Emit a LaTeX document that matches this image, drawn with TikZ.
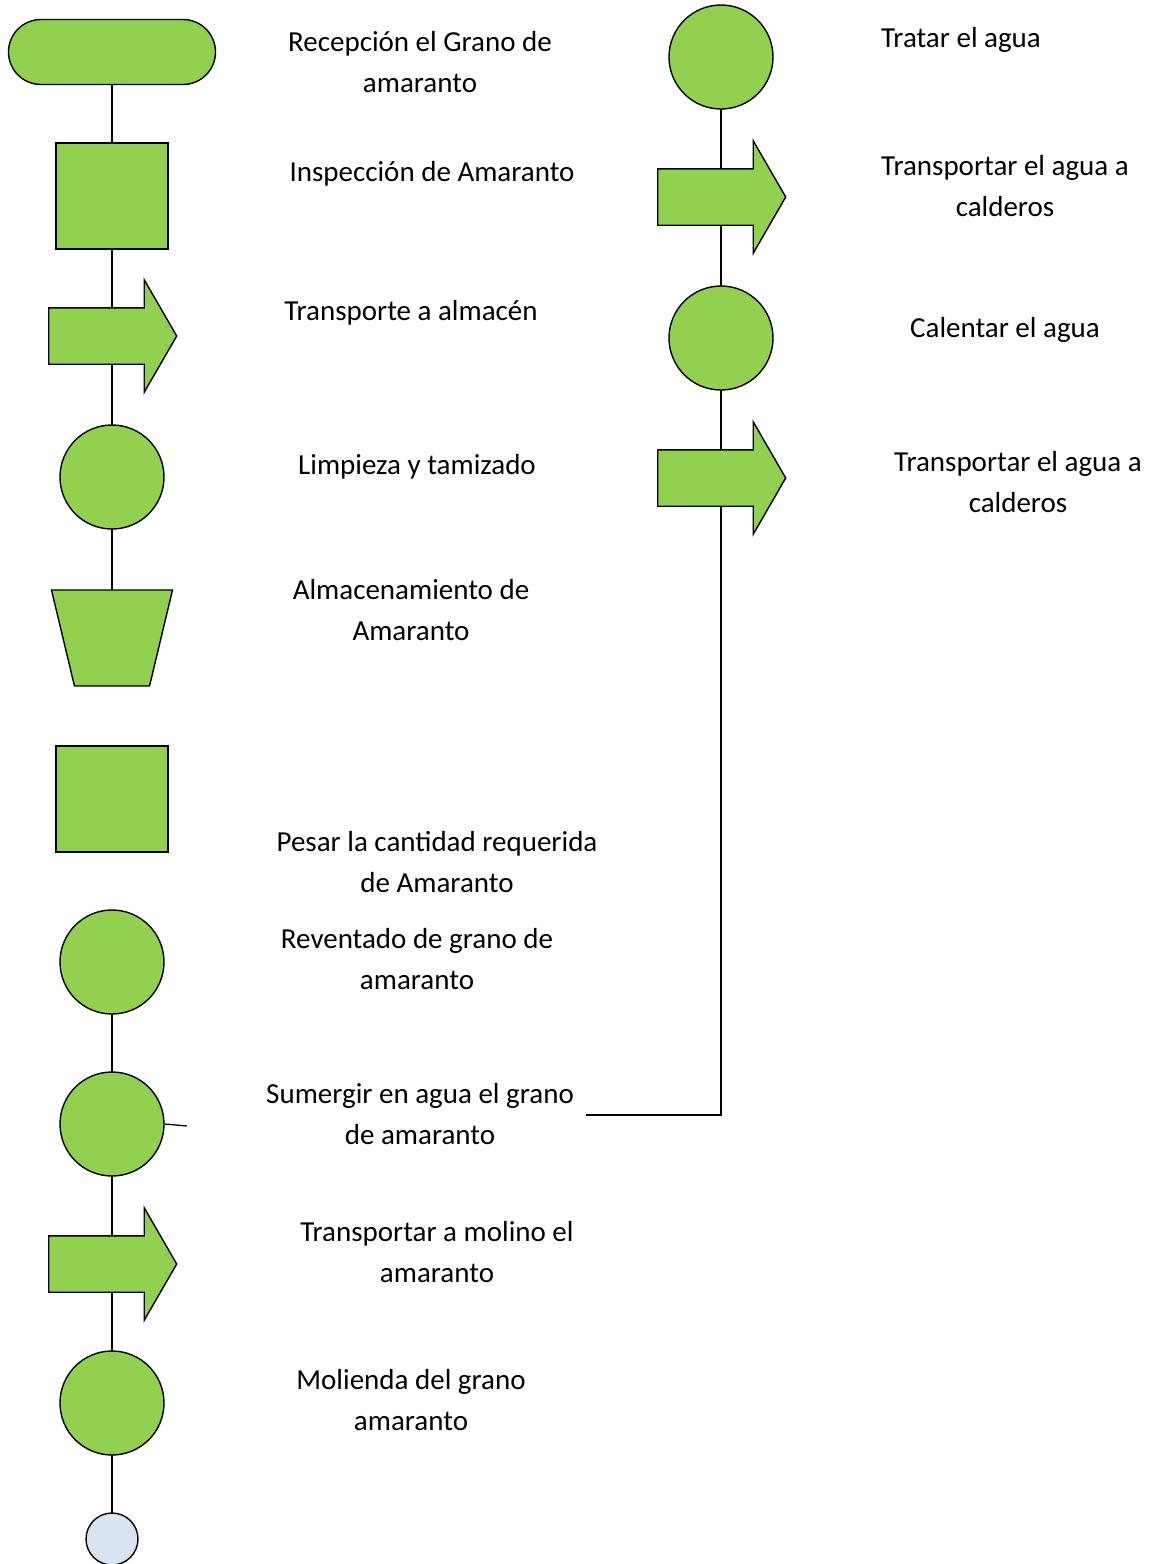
\documentclass[tikz,border=0pt]{standalone}
\usepackage{fontspec}
\setmainfont{Carlito}
\usetikzlibrary{shapes.geometric,shapes.misc,shapes.arrows,backgrounds}
\definecolor{grano}{HTML}{92D050}
\definecolor{fin}{HTML}{DAE3F0}
\tikzstyle{shp}=[draw, fill=grano, line width=1.4pt, inner sep=0pt]
\tikzstyle{term}=[shp, rounded rectangle, minimum width=207pt, minimum height=65pt]
\tikzstyle{oper}=[shp, circle, minimum size=104pt]
\tikzstyle{insp}=[shp, rectangle, minimum width=112pt, minimum height=106pt]
\tikzstyle{transp}=[shp, single arrow, inner xsep=0pt, inner ysep=27.5pt, minimum height=128pt, minimum width=111pt, single arrow head extend=28pt, single arrow tip angle=120, anchor=tail]
\tikzstyle{almac}=[shp, inner sep=2pt, trapezium, trapezium angle=73, trapezium stretches=true, shape border rotate=180, minimum width=121pt, minimum height=96pt]
\tikzstyle{txt}=[align=center, font=\fontsize{29}{41}\selectfont]
\tikzstyle{line}=[line width=1.3pt]

\begin{document}
\begin{tikzpicture}[x=1pt,y=-1pt]
\useasboundingbox (0,0) rectangle (1159,1564);
% left column
\node (rec) [term] at (112,52) {};
\node (ins) [insp] at (112,196) {};
\node (tra) [transp] at (48,336) {};
\node (lim) [oper] at (112,477) {};
\node (alm) [almac] at (112,638) {};
\node (pes) [insp] at (112,799) {};
\node (rev) [oper] at (112,962) {};
\node (sum) [oper] at (112,1124) {};
\node (mol) [transp] at (48,1264) {};
\node (mlg) [oper] at (112,1403) {};
\node (fin) [draw, fill=fin, line width=1.4pt, circle, minimum size=52pt, inner sep=0pt] at (112,1539) {};
\coordinate (stub) at (187,1126);
% right column
\node (agu) [oper] at (721,57) {};
\node (cal1) [transp] at (657,197) {};
\node (cal) [oper] at (721,338) {};
\node (cal2) [transp] at (657,478) {};
% labels
\node (l-rec) [txt] at (420,62) {Recepción el Grano de\\amaranto};
\node (l-ins) [txt] at (432,174) {Inspección de Amaranto};
\node (l-tra) [txt] at (411,313) {Transporte a almacén};
\node (l-lim) [txt] at (417,467) {Limpieza y tamizado};
\node (l-alm) [txt] at (411,610) {Almacenamiento de\\Amaranto};
\node (l-pes) [txt] at (437,862) {Pesar la cantidad requerida\\de Amaranto};
\node (l-rev) [txt] at (417,959) {Reventado de grano de\\amaranto};
\node (l-sum) [txt] at (420,1114) {Sumergir en agua el grano\\de amaranto};
\node (l-mol) [txt] at (437,1252) {Transportar a molino el\\amaranto};
\node (l-mlg) [txt] at (411,1400) {Molienda del grano\\amaranto};
\node (l-agu) [txt] at (961,40) {Tratar el agua};
\node (l-cal1) [txt] at (1005,186) {Transportar el agua a\\calderos};
\node (l-cal) [txt] at (1005,330) {Calentar el agua};
\node (l-cal2) [txt] at (1018,482) {Transportar el agua a\\calderos};
% connectors
\begin{scope}[on background layer]
\draw[line] (rec.center) -- (ins.center);
\draw[line] (ins.center) -- (ins.center |- tra.center) -- (lim.center);
\draw[line] (lim.center) -- (alm.center);
\draw[line] (rev.center) -- (sum.center);
\draw[line] (sum.center) -- (sum.center |- mol.center) -- (mlg.center);
\draw[line] (mlg.center) -- (fin.center);
\draw[line] (agu.center) -- (agu.center |- cal1.center) -- (cal.center);
\draw[line] (cal.center) -- (cal.center |- cal2.center) |- ([xshift=9pt,yshift=-1pt]l-sum.east);
\end{scope}
\draw[line] (sum.east) -- (stub);
\end{tikzpicture}
\end{document}
